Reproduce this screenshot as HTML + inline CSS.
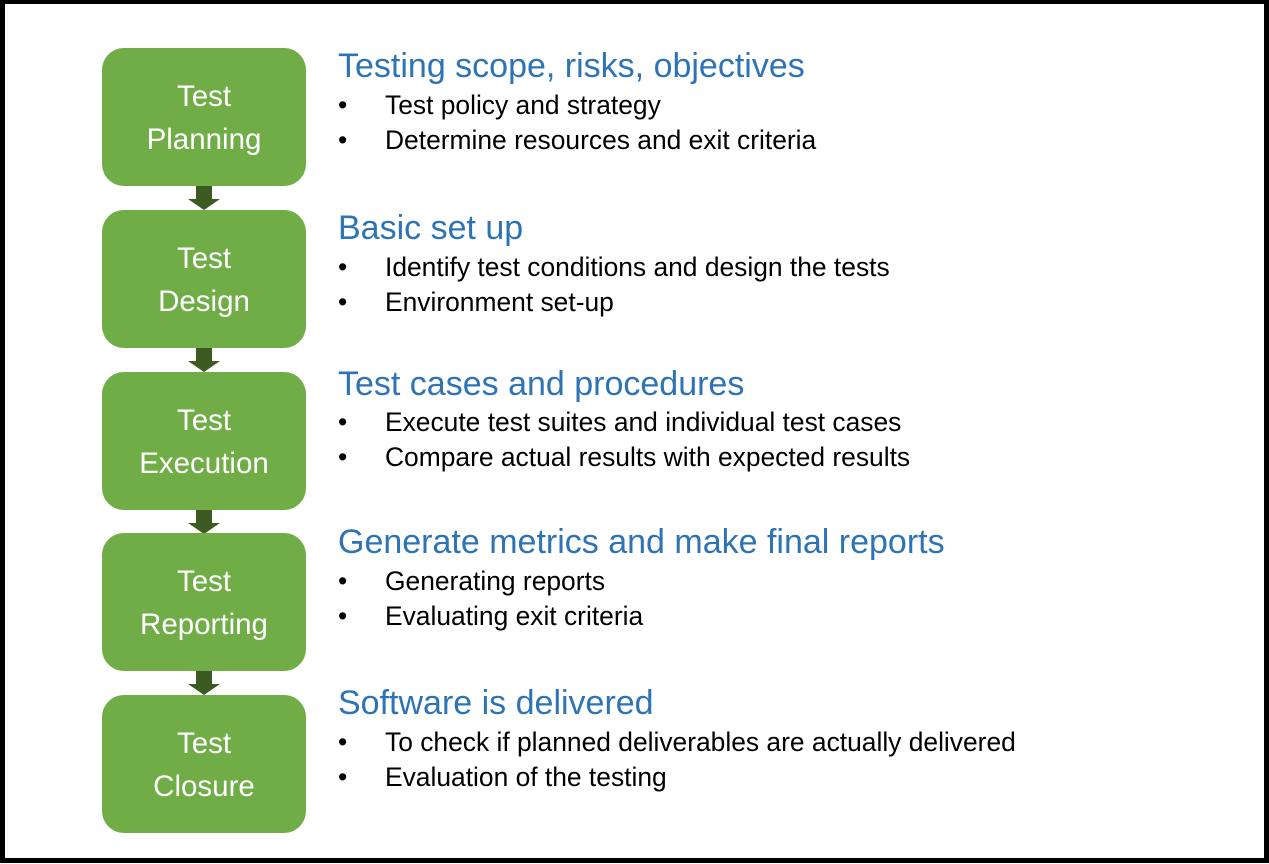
<!DOCTYPE html>
<html><head><style>
body{margin:0;width:1269px;height:864px;position:relative;background:#fff;overflow:hidden;font-family:"Liberation Sans",sans-serif}
.frame{position:absolute;left:0;top:0;width:1259px;height:854px;border:5px solid #000;border-top-width:4px;}
.box{position:absolute;left:102px;width:204px;height:138px;background:#70AD47;border-radius:22px;color:#fff;font-size:29.5px;line-height:43px;text-align:center;display:flex;flex-direction:column;justify-content:center;padding-top:2px;box-sizing:border-box}
.stem{position:absolute;left:196px;width:16px;height:13px;background:#3B5B22}
.head{position:absolute;left:188px;width:0;height:0;border-left:16px solid transparent;border-right:16px solid transparent;border-top:11px solid #3B5B22}
.h{position:absolute;left:338px;font-size:34px;line-height:1;color:#2E74B5;white-space:nowrap}
.b{position:absolute;left:338px;font-size:26.4px;line-height:1;color:#000;white-space:nowrap}
.b span{display:inline-block;width:47px}
</style></head><body>
<div class="frame"></div>

<div class="box" style="top:48px"><div>Test</div><div>Planning</div></div>
<div class="stem" style="top:186px"></div><div class="head" style="top:199px"></div>
<div class="h" style="top:49px">Testing scope, risks, objectives</div>
<div class="b" style="top:92px"><span>•</span>Test policy and strategy</div>
<div class="b" style="top:127px"><span>•</span>Determine resources and exit criteria</div>

<div class="box" style="top:210px"><div>Test</div><div>Design</div></div>
<div class="stem" style="top:348px"></div><div class="head" style="top:361px"></div>
<div class="h" style="top:211px">Basic set up</div>
<div class="b" style="top:254px"><span>•</span>Identify test conditions and design the tests</div>
<div class="b" style="top:289px"><span>•</span>Environment set-up</div>

<div class="box" style="top:372px"><div>Test</div><div>Execution</div></div>
<div class="stem" style="top:510px"></div><div class="head" style="top:523px"></div>
<div class="h" style="top:367px">Test cases and procedures</div>
<div class="b" style="top:409px"><span>•</span>Execute test suites and individual test cases</div>
<div class="b" style="top:444px"><span>•</span>Compare actual results with expected results</div>

<div class="box" style="top:533px"><div>Test</div><div>Reporting</div></div>
<div class="stem" style="top:671px"></div><div class="head" style="top:684px"></div>
<div class="h" style="top:525px">Generate metrics and make final reports</div>
<div class="b" style="top:568px"><span>•</span>Generating reports</div>
<div class="b" style="top:603px"><span>•</span>Evaluating exit criteria</div>

<div class="box" style="top:695px"><div>Test</div><div>Closure</div></div>
<div class="h" style="top:686px">Software is delivered</div>
<div class="b" style="top:729px"><span>•</span>To check if planned deliverables are actually delivered</div>
<div class="b" style="top:764px"><span>•</span>Evaluation of the testing</div>
</body></html>
